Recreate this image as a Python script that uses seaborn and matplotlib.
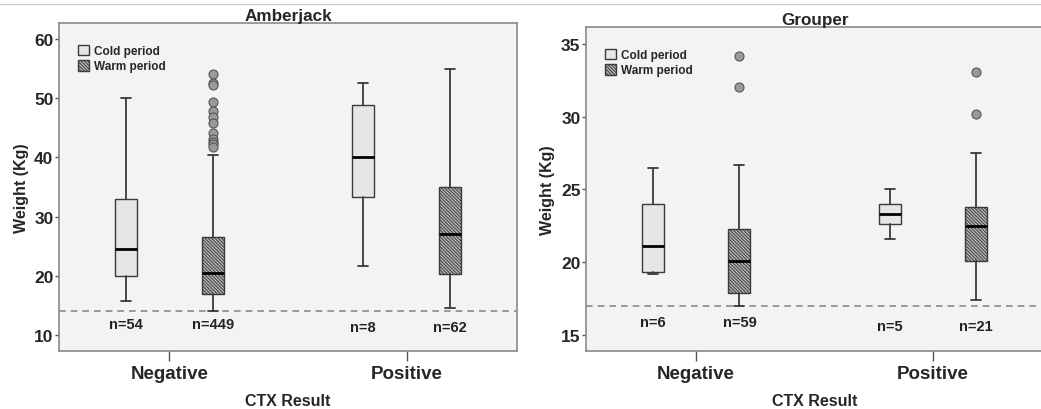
import matplotlib
matplotlib.use("Agg")
import matplotlib.pyplot as plt
from matplotlib.patches import Patch
from matplotlib.lines import Line2D
import seaborn as sns

# ---- data ----
categories = ["Negative", "Positive"]
periods = ["Cold period", "Warm period"]

# Amberjack five-number summaries: order = [Neg-Cold, Neg-Warm, Pos-Cold, Pos-Warm]
amb_whislo = [15.8, 14.0, 21.6, 14.5]
amb_q1 = [20.0, 17.0, 33.3, 20.25]
amb_med = [24.5, 20.5, 40.0, 27.05]
amb_q3 = [33.0, 26.6, 48.9, 34.95]
amb_whishi = [50.0, 40.45, 52.5, 54.9]
amb_fliers = [[], [54.05, 52.6, 52.2, 49.3, 47.9, 46.8, 45.8, 44.2, 43.1, 42.6, 42.2, 41.8], [], []]
amb_n = ["n=54", "n=449", "n=8", "n=62"]
amb_cutoff = 14.0

# Grouper
grp_whislo = [19.2, 17.0, 21.6, 17.4]
grp_q1 = [19.3, 17.9, 22.6, 20.1]
grp_med = [21.1, 20.1, 23.3, 22.5]
grp_q3 = [24.0, 22.3, 24.0, 23.8]
grp_whishi = [26.5, 26.7, 25.0, 27.5]
grp_fliers = [[], [34.15, 32.05], [], [33.05, 30.2]]
grp_n = ["n=6", "n=59", "n=5", "n=21"]
grp_cutoff = 17.0

amb_yticks = [10, 20, 30, 40, 50, 60]
grp_yticks = [15, 20, 25, 30, 35]

sns.set_style("ticks")
plt.rcParams["font.family"] = ["Liberation Sans", "DejaVu Sans"]
plt.rcParams["font.weight"] = "bold"
plt.rcParams["hatch.linewidth"] = 0.7
plt.rcParams["hatch.color"] = "#3a3a3a"

COLD_FC = "#e6e6e6"
WARM_FC = "#b8b8b8"
EDGE = "#3a3a3a"
BG = "#f3f3f3"
FRAME = "#8a8a8a"
HATCH = "\\" * 10

fig = plt.figure(figsize=(10.41, 4.10), dpi=100)
fig.patch.set_facecolor("white")
fig.add_artist(Line2D([0, 1], [0.987, 0.987], color="#cccccc", lw=1.0, transform=fig.transFigure))

ax1 = fig.add_axes([59 / 1041, 58 / 410, 458 / 1041, 328 / 410])
ax2 = fig.add_axes([586 / 1041, 58 / 410, 457 / 1041, 324 / 410])

width = 0.093
offset = 0.183


def draw(ax, title, whislo, q1, med, q3, whishi, fliers, nlab, cutoff, ylim, yticks, ny):
    ax.set_facecolor(BG)
    stats = []
    positions = []
    k = 0
    for ci, cat in enumerate(categories):
        for pi, per in enumerate(periods):
            stats.append(dict(med=med[k], q1=q1[k], q3=q3[k], whislo=whislo[k],
                              whishi=whishi[k], fliers=fliers[k], label=f"{cat}-{per}"))
            positions.append(ci + (-offset if pi == 0 else offset))
            k += 1
    bp = ax.bxp(stats, positions=positions, widths=width, patch_artist=True,
                showfliers=True, manage_ticks=False,
                boxprops=dict(edgecolor=EDGE, linewidth=1.0),
                medianprops=dict(color="black", linewidth=2.0),
                whiskerprops=dict(color=EDGE, linewidth=1.3),
                capprops=dict(color=EDGE, linewidth=1.3),
                capwidths=width * 0.45,
                flierprops=dict(marker="o", markerfacecolor="#9a9a9a",
                                markeredgecolor="#555555", markersize=6.5,
                                markeredgewidth=0.8))
    for i, box in enumerate(bp["boxes"]):
        if i % 2 == 0:
            box.set_facecolor(COLD_FC)
        else:
            box.set_facecolor(WARM_FC)
            box.set_hatch(HATCH)
    ax.axhline(cutoff, color="#8a8a8a", lw=1.2, ls=(0, (4, 3)), zorder=0.5)
    for i, t in enumerate(nlab):
        ax.text(positions[i], ny[i // 2], t, ha="center", va="center",
                fontsize=10.5, fontweight="bold", color="#222222")
    ax.set_xlim(-0.465, 1.465)
    ax.set_ylim(*ylim)
    ax.set_xticks(range(len(categories)))
    ax.set_xticklabels(categories, fontsize=13.5, fontweight="bold")
    ax.set_yticks(yticks)
    ax.set_yticklabels([str(v) for v in yticks], fontsize=12.5, fontweight="bold")
    ax.tick_params(axis="x", length=7, width=1, color="#555555", pad=3)
    ax.tick_params(axis="y", length=3, width=1, color="#555555", pad=1)
    ax.set_xlabel("CTX Result", fontsize=11.5, fontweight="bold", labelpad=8)
    ax.set_ylabel("Weight (Kg)", fontsize=11.5, fontweight="bold", labelpad=4)
    ax.set_title(title, fontsize=12.3, fontweight="bold", pad=2)
    for s in ax.spines.values():
        s.set_color(FRAME)
        s.set_linewidth(1.2)
    handles = [Patch(facecolor=COLD_FC, edgecolor=EDGE, label=periods[0]),
               Patch(facecolor=WARM_FC, edgecolor=EDGE, hatch=HATCH, label=periods[1])]
    ax.legend(handles=handles, loc="upper left", bbox_to_anchor=(0.025, 0.955),
              frameon=False, handlelength=1.0, handleheight=1.0,
              handletextpad=0.4, labelspacing=0.25, borderaxespad=0.2,
              prop=dict(weight="bold", size=8.5))


draw(ax1, "Amberjack", amb_whislo, amb_q1, amb_med, amb_q3, amb_whishi, amb_fliers,
     amb_n, amb_cutoff, (7.3, 62.7), amb_yticks, [11.9, 11.4])
draw(ax2, "Grouper", grp_whislo, grp_q1, grp_med, grp_q3, grp_whishi, grp_fliers,
     grp_n, grp_cutoff, (13.9, 36.15), grp_yticks, [15.87, 15.64])

fig.savefig("out.png", dpi=100, facecolor="white")
